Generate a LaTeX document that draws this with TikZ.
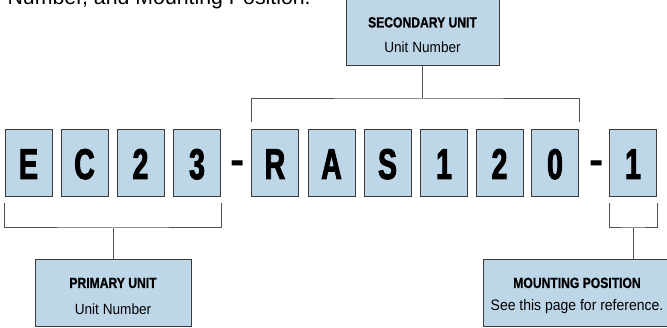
\documentclass[tikz,border=0pt]{standalone}
\usepackage{fontspec}
\setmainfont{Liberation Sans}
\newfontfamily\letterfont[FakeStretch=0.66,FakeBold=2.2]{Liberation Sans Bold}
\newfontfamily\dashfont{Liberation Sans Bold}
\newfontfamily\boldlblfont[FakeStretch=0.82,FakeBold=0.8]{Liberation Sans Bold}
\newfontfamily\reglblfont[FakeStretch=0.92]{Liberation Sans}
\definecolor{boxfill}{HTML}{BDD7E8}
\definecolor{boxline}{HTML}{3A3A3A}
\definecolor{conline}{HTML}{505050}
\tikzset{
  charbox/.style={draw=boxline, line width=1pt, fill=boxfill, minimum width=47pt, minimum height=67pt,
    inner sep=0pt, text height=31pt, text depth=0pt, font=\letterfont\fontsize{43}{43}\selectfont},
  dashchar/.style={anchor=base, inner sep=0pt, font=\dashfont\fontsize{43}{43}\selectfont},
  infobox/.style={draw=boxline, line width=1pt, fill=boxfill, minimum height=67pt, inner sep=0pt},
  boldlbl/.style={anchor=base, inner sep=0pt, font=\boldlblfont\fontsize{14.8}{14.8}\selectfont},
  reglbl/.style={anchor=base, inner sep=0pt, font=\reglblfont\fontsize{14.8}{14.8}\selectfont},
  conn/.style={draw=conline, line width=1pt}
}
\begin{document}
\begin{tikzpicture}[x=1pt,y=-1pt]
\clip (0,0) rectangle (667,328);
\fill[white] (0,0) rectangle (667,328);
% cut-off heading text
\node[anchor=base west, inner sep=0pt, font=\fontsize{21.3}{21.3}\selectfont] (head) at (7.4,4.5) {Number, and Mounting Position.};
% character boxes
\node[charbox] (c1) at (28.5,163.5) {E};
\node[charbox] (c2) at (84.5,163.5) {C};
\node[charbox] (c3) at (140.5,163.5) {2};
\node[charbox] (c4) at (197,163.5) {3};
\node[dashchar] (d1) at (237.5,175) {-};
\node[charbox] (c5) at (275,163.5) {R};
\node[charbox] (c6) at (331.5,163.5) {A};
\node[charbox] (c7) at (387.5,163.5) {S};
\node[charbox] (c8) at (444,163.5) {1};
\node[charbox] (c9) at (499.5,163.5) {2};
\node[charbox] (c10) at (555,163.5) {0};
\node[dashchar] (d2) at (597,175) {-};
\node[charbox] (c11) at (633,163.5) {1};
% info boxes
\node[infobox, minimum width=153pt] (sec) at (422.5,32.5) {};
\node[boldlbl] (secT) at ([yshift=-29pt]sec.north) {SECONDARY UNIT};
\node[reglbl] (secS) at ([yshift=-54pt]sec.north) {Unit Number};
\node[infobox, minimum width=156pt] (pri) at (113,293.5) {};
\node[boldlbl] (priT) at ([yshift=-28.5pt]pri.north) {PRIMARY UNIT};
\node[reglbl] (priS) at ([yshift=-55pt]pri.north) {Unit Number};
\node[infobox, minimum width=188pt] (mnt) at (577,293) {};
\node[boldlbl] (mntT) at ([yshift=-29pt]mnt.north) {MOUNTING POSITION};
\node[reglbl, font=\reglblfont\fontsize{15.2}{15.2}\selectfont] (mntS) at ([yshift=-52pt]mnt.north) {See this page for reference.};
% brackets
\coordinate (tb) at (422.5,99);
\draw[conn] ([yshift=7pt]c5.north west) |- (tb) -| ([yshift=7pt]c10.north east);
\draw[conn] (sec.south) -- (tb);
\coordinate (pb) at (113,228);
\draw[conn] ([yshift=-6pt]c1.south west) |- (pb) -| ([yshift=-6pt]c4.south east);
\draw[conn] (pb) -- (pri.north);
\coordinate (mb) at (633,228);
\draw[conn] ([yshift=-6pt]c11.south west) |- (mb) -| ([yshift=-6pt]c11.south east);
\draw[conn] (mb) -- (mb |- mnt.north);
\end{tikzpicture}
\end{document}
